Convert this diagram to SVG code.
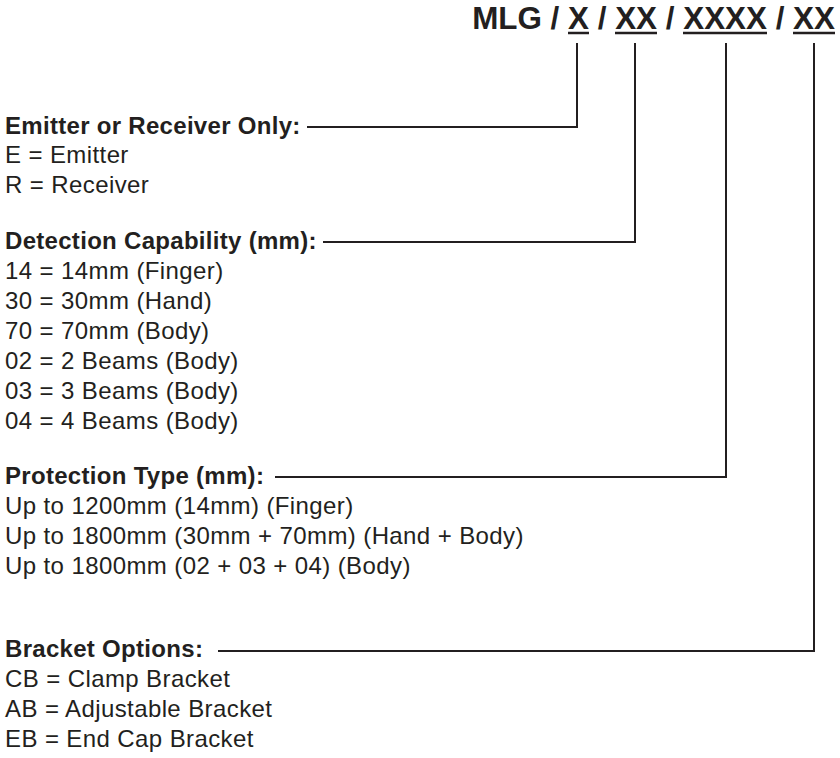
<svg xmlns="http://www.w3.org/2000/svg" width="840" height="758" viewBox="0 0 840 758">
<style>
text{font-family:"Liberation Sans",Arial,sans-serif;fill:#231f20}
.t{font-size:31.4px;font-weight:bold}
.h{font-size:24px;font-weight:bold;letter-spacing:0.3px}
.b{font-size:24px;letter-spacing:0.4px}
.c{stroke:#231f20;stroke-width:2;fill:none}
.u{stroke:#231f20;stroke-width:2.5}
</style>
<rect width="840" height="758" fill="#fff"/>
<g id="title">
<text class="t" x="835" y="29" text-anchor="end">MLG / X / XX / XXXX / XX</text>
<line class="u" x1="568" y1="33" x2="589" y2="33"/>
<line class="u" x1="615" y1="33" x2="657" y2="33"/>
<line class="u" x1="683" y1="33" x2="767" y2="33"/>
<line class="u" x1="793" y1="33" x2="835" y2="33"/>
</g>
<g id="emitter">
<text class="h" x="5" y="134">Emitter or Receiver Only:</text>
<text class="b" x="5" y="163">E = Emitter</text>
<text class="b" x="5" y="193">R = Receiver</text>
</g>
<g id="detection">
<text class="h" x="5" y="249">Detection Capability (mm):</text>
<text class="b" x="5" y="279">14 = 14mm (Finger)</text>
<text class="b" x="5" y="309">30 = 30mm (Hand)</text>
<text class="b" x="5" y="339">70 = 70mm (Body)</text>
<text class="b" x="5" y="369">02 = 2 Beams (Body)</text>
<text class="b" x="5" y="399">03 = 3 Beams (Body)</text>
<text class="b" x="5" y="429">04 = 4 Beams (Body)</text>
</g>
<g id="protection">
<text class="h" x="5" y="484">Protection Type (mm):</text>
<text class="b" x="5" y="514">Up to 1200mm (14mm) (Finger)</text>
<text class="b" x="5" y="544">Up to 1800mm (30mm + 70mm) (Hand + Body)</text>
<text class="b" x="5" y="574">Up to 1800mm (02 + 03 + 04) (Body)</text>
</g>
<g id="bracket">
<text class="h" x="5" y="657">Bracket Options:</text>
<text class="b" x="5" y="687">CB = Clamp Bracket</text>
<text class="b" x="5" y="717">AB = Adjustable Bracket</text>
<text class="b" x="5" y="747">EB = End Cap Bracket</text>
</g>
<g id="connectors">
<polyline class="c" points="577,43 577,127 307,127"/>
<polyline class="c" points="635,43 635,242 323,242"/>
<polyline class="c" points="726,43 726,477 275,477"/>
<polyline class="c" points="814,43 814,651 218,651"/>
</g>
</svg>
